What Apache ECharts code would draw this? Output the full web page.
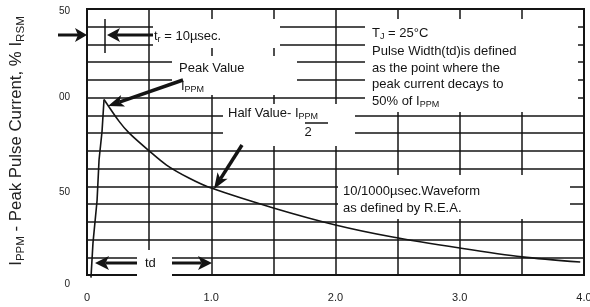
<!DOCTYPE html>
<html>
<head>
<meta charset="utf-8">
<script src="https://cdn.jsdelivr.net/npm/echarts@6/dist/echarts.min.js"></script>
<style>
  html, body { margin: 0; padding: 0; background: #fff; }
  #chart { width: 590px; height: 307px; }
</style>
</head>
<body>
<div id="chart"></div>
<script>
// time in ms, current in % of I_PPM
const riseX = [0.032, 0.048, 0.081, 0.097, 0.121, 0.137];
const riseY = [-1.5, 18, 42, 65, 81, 99];
const decayX = [0.137, 0.26, 0.34, 0.5, 0.64, 0.82, 1.0, 1.5, 2.0, 2.46, 3.0, 3.5, 3.97];
const decayY = [99, 86.5, 80, 70, 62, 54.7, 49, 37.8, 28.2, 21.4, 15.2, 10.2, 7.3];

const xTickLabels = ['0', '1.0', '2.0', '3.0', '4.0'];
// printed as in the scan (left digits cut off)
const yTickLabels = ['0', '50', '00', '50'];

const FONT = '"Liberation Sans", Arial, sans-serif';
const INK = '#141414';

const chart = echarts.init(document.getElementById('chart'));

// white boxes behind the notes, they cut the grid lines like the original
const mask = (x, y, w, h) => ({
  type: 'rect', z: 50, silent: true,
  shape: { x, y, width: w, height: h },
  style: { fill: '#fff' }
});

const arrow = (x1, y1, x2, y2, head, half, w) => {
  const dx = x2 - x1, dy = y2 - y1;
  const L = Math.hypot(dx, dy), ux = dx / L, uy = dy / L;
  const bx = x2 - ux * head, by = y2 - uy * head;
  const nx = bx + ux * head * 0.25, ny = by + uy * head * 0.25;
  return [
    { type: 'line', z: 60, shape: { x1, y1, x2: nx, y2: ny }, style: { stroke: INK, lineWidth: w } },
    { type: 'polygon', z: 60, shape: { points: [[x2, y2], [bx - uy * half, by + ux * half], [nx, ny], [bx + uy * half, by - ux * half]] }, style: { fill: INK } }
  ];
};

const rich = {
  m: { fontSize: 13, fontFamily: FONT, fill: INK, color: INK, lineHeight: 16 },
  s: { fontSize: 9, fontFamily: FONT, fill: INK, color: INK, lineHeight: 10, verticalAlign: 'bottom' }
};
const note = (text, x, y, align) => ({
  type: 'text', z: 60,
  style: { text, x, y, font: '13px ' + FONT, fill: INK, align: align || 'left', verticalAlign: 'middle', rich }
});

const yRich = {};
[18, 11, 0, 4].forEach((p, i) => {
  yRich['t' + i] = { fontSize: 10, fontFamily: FONT, color: '#222', padding: [p, 0, 0, 0] };
});

chart.setOption({
  animation: false,
  grid: {
    left: 87, right: 6, top: 9, bottom: 32,
    outerBoundsMode: 'none', containLabel: false,
    show: true, borderColor: INK, borderWidth: 2
  },
  xAxis: {
    type: 'value', min: 0, max: 4, interval: 0.5,
    axisLine: { show: true, lineStyle: { color: INK, width: 2 } },
    axisTick: { show: false },
    splitLine: { show: true, lineStyle: { color: INK, width: 1.5 } },
    axisLabel: {
      margin: 17, fontSize: 11, fontFamily: FONT, color: '#222',
      formatter: v => Number.isInteger(v) ? xTickLabels[v] : ''
    }
  },
  yAxis: {
    type: 'value', min: 0, max: 150, interval: 10,
    axisLine: { show: true, lineStyle: { color: INK, width: 2 } },
    axisTick: { show: false },
    splitLine: { show: true, lineStyle: { color: INK, width: 1.5 } },
    axisLabel: {
      margin: 17, fontSize: 10, fontFamily: FONT, color: '#222',
      formatter: v => v % 50 === 0 ? '{t' + (v / 50) + '|' + yTickLabels[v / 50] + '}' : '',
      rich: yRich
    }
  },
  series: [
    {
      type: 'line', data: riseX.map((x, i) => [x, riseY[i]]),
      symbol: 'none', clip: false, lineStyle: { color: INK, width: 1.6 }
    },
    {
      type: 'line', data: decayX.map((x, i) => [x, decayY[i]]),
      symbol: 'none', smooth: 0.3, lineStyle: { color: INK, width: 1.6 }
    }
  ],
  graphic: {
    elements: [
      mask(153, 19, 127, 29),
      mask(172, 56, 125, 39),
      mask(223, 104, 132, 42),
      mask(365, 19, 213, 93),
      mask(338, 175, 232, 44),
      mask(137, 250, 35, 31),

      { type: 'line', z: 60, shape: { x1: 105, y1: 19, x2: 105, y2: 53 }, style: { stroke: INK, lineWidth: 1.5 } },
      ...arrow(58, 35, 87, 35, 12, 7, 3),
      ...arrow(153, 35, 107, 35, 13, 7, 3),
      ...arrow(183, 80, 108, 106, 16, 6, 3.5),
      ...arrow(242, 145, 214, 189, 16, 6, 3.5),
      ...arrow(137, 263, 95, 263, 14, 7, 3),
      ...arrow(172, 263, 212, 263, 14, 7, 3),

      note('{m|t}{s|r}{m| = 10µsec.}', 154, 36),
      note('Peak Value', 179, 68),
      note('{m|I}{s|PPM}', 181, 86),
      note('{m|T}{s|J}{m| = 25°C}', 372, 33),
      note('Pulse Width(td)is defined', 372, 51),
      note('as the point where the', 372, 68),
      note('peak current decays to', 372, 84),
      note('{m|50% of I}{s|PPM}', 372, 101),
      note('{m|Half Value- I}{s|PPM}', 228, 113),
      { type: 'line', z: 60, shape: { x1: 305, y1: 123, x2: 328, y2: 123 }, style: { stroke: INK, lineWidth: 1.5 } },
      note('2', 308, 132, 'center'),
      note('10/1000µsec.Waveform', 343, 191),
      note('as defined by R.E.A.', 343, 208),
      note('td', 145, 263),

      {
        type: 'text', z: 60, x: 17, y: 141, rotation: Math.PI / 2, scaleX: 1.05,
        style: {
          text: '{m|I}{s|PPM}{m| - Peak Pulse Current, % I}{s|RSM}',
          align: 'center', verticalAlign: 'middle',
          rich: {
            m: { fontSize: 16, fontFamily: FONT, fill: '#222', lineHeight: 18 },
            s: { fontSize: 11, fontFamily: FONT, fill: '#222', lineHeight: 12, verticalAlign: 'bottom' }
          }
        }
      }
    ]
  }
});
</script>
</body>
</html>
